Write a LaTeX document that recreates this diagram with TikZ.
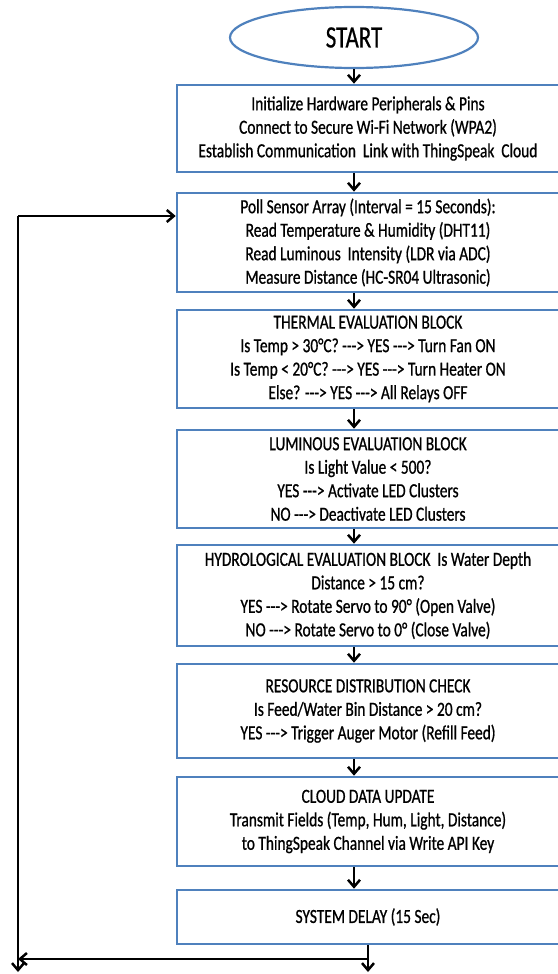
\documentclass[tikz,border=0pt]{standalone}
\usepackage{fontspec}
\setmainfont{Carlito}[Ligatures=TeXOff, FakeStretch=0.77, FakeBold=0.8]
\newfontfamily\startfont{Carlito}[FakeStretch=0.74, FakeBold=0.6]
\usetikzlibrary{shapes, arrows.meta, positioning, calc}
\definecolor{boxblue}{RGB}{79,129,189}

\begin{document}
\begin{tikzpicture}[x=1pt, y=-1pt, font=\fontsize{20}{23.5}\selectfont,
        stage/.style={draw=boxblue, line width=2.6pt, minimum width=382pt, inner sep=0pt, align=center},
        flow/.style={line width=2.5pt, -{Straight Barb[length=7pt, width=12pt]}}]
            \useasboundingbox (0,0) rectangle (557,974);
            % start
            \node[draw=boxblue, line width=2.2pt, ellipse, minimum width=248pt, minimum height=61pt, inner sep=0pt]
                  (start) at (354,37.5) {\startfont\fontsize{31}{31}\selectfont START};
            % process blocks
            \node[stage, minimum height=87pt] (init) at (368,128.5)
                  {Initialize Hardware Peripherals \& Pins\\Connect to Secure Wi-Fi Network (WPA2)\\Establish Communication~ Link with ThingSpeak~ Cloud};
            \node[stage, minimum height=99pt] (poll) at (368,242.5)
                  {Poll Sensor Array (Interval = 15 Seconds):\\Read Temperature \& Humidity (DHT11)\\Read Luminous~ Intensity (LDR via ADC)\\Measure Distance (HC-SR04 Ultrasonic)};
            \node[stage, minimum height=98pt] (thermal) at (368,359)
                  {THERMAL EVALUATION BLOCK\\Is Temp > 30°C? ---> YES ---> Turn Fan ON\\Is Temp < 20°C? ---> YES ---> Turn Heater ON\\Else? ---> YES ---> All Relays OFF};
            \node[stage, minimum height=98pt] (lumin) at (368,479)
                  {LUMINOUS EVALUATION BLOCK\\Is Light Value < 500?\\YES ---> Activate LED Clusters\\NO ---> Deactivate LED Clusters};
            \node[stage, minimum height=101pt] (hydro) at (368,595.5)
                  {HYDROLOGICAL EVALUATION BLOCK~ Is Water Depth\\Distance > 15 cm?\\YES ---> Rotate Servo to 90° (Open Valve)\\NO ---> Rotate Servo to 0° (Close Valve)};
            \node[stage, minimum height=94pt] (resource) at (368,711)
                  {RESOURCE DISTRIBUTION CHECK\\Is Feed/Water Bin Distance > 20 cm?\\YES ---> Trigger Auger Motor (Refill Feed)};
            \node[stage, minimum height=89pt] (cloud) at (368,821.5)
                  {CLOUD DATA UPDATE\\Transmit Fields (Temp, Hum, Light, Distance)\\to ThingSpeak Channel via Write API Key};
            \node[stage, minimum height=54pt] (delay) at (368,917) {SYSTEM DELAY (15 Sec)};
            % downward flow
            \draw[flow] (start.south) -- (init.north -| start);
            \foreach \a/\b in {init/poll, poll/thermal, thermal/lumin, lumin/hydro, hydro/resource, resource/cloud, cloud/delay}
                \draw[flow] (\a.south -| start) -- (\b.north -| start);
            % loop back
            \coordinate (looptop) at (18,216);
            \coordinate (loopbot) at (18,972);
            \coordinate (retjoin) at (369,959);
            \draw[flow] (delay.south) -- (delay.south |- loopbot);
            \draw[flow] (retjoin) -- (retjoin -| loopbot);
            \draw[flow] (looptop) -- (loopbot);
            \draw[flow] (looptop) -- (looptop -| poll.west);
        \end{tikzpicture}
\end{document}
